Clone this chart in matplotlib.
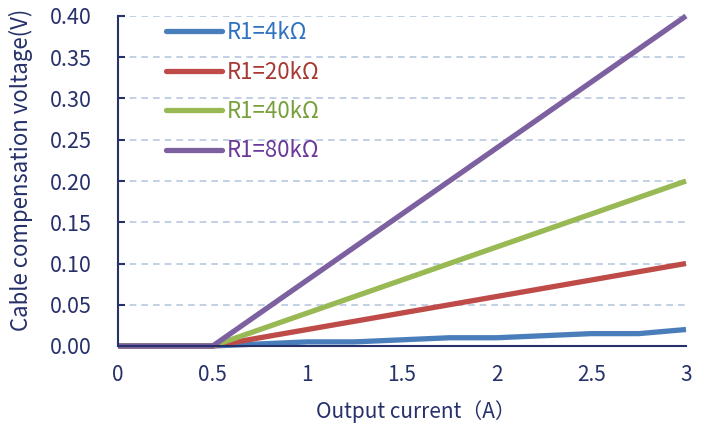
import matplotlib
matplotlib.use("Agg")
import matplotlib.pyplot as plt
from matplotlib.ticker import MultipleLocator, FixedLocator

plt.rcParams['font.family'] = ['Noto Sans CJK SC', 'DejaVu Sans']

current = [0, 0.25, 0.5, 0.75, 1.0, 1.25, 1.5, 1.75, 2.0, 2.25, 2.5, 2.75, 3.0]
v_4k = [0, 0, 0, 0.0025, 0.005, 0.005, 0.0075, 0.01, 0.01, 0.0125, 0.015, 0.015, 0.02]
v_20k = [0, 0, 0, 0.01, 0.02, 0.03, 0.04, 0.05, 0.06, 0.07, 0.08, 0.09, 0.10]
v_40k = [0, 0, 0, 0.02, 0.04, 0.06, 0.08, 0.10, 0.12, 0.14, 0.16, 0.18, 0.20]
v_80k = [0, 0, 0, 0.04, 0.08, 0.12, 0.16, 0.20, 0.24, 0.28, 0.32, 0.36, 0.40]
labels = ["R1=4kΩ", "R1=20kΩ", "R1=40kΩ", "R1=80kΩ"]
colors = ["#4a7ebb", "#be4b48", "#98b954", "#7d60a0"]
text_colors = ["#2f72c0", "#a83a36", "#77a03a", "#6a3a9a"]
xticks = [0, 0.5, 1, 1.5, 2, 2.5, 3]
xtick_labels = ["0", "0.5", "1", "1.5", "2", "2.5", "3"]

navy = "#26306a"
fig = plt.figure(figsize=(7.04, 4.24), dpi=100)
ax = fig.add_axes([118/704, 1-346/424, (686-118)/704, (346-16)/424])

for ys, c, lab in zip([v_4k, v_20k, v_40k, v_80k], colors, labels):
    ax.plot(current, ys, color=c, lw=3.8, label=lab, solid_capstyle='butt', clip_on=False)

ax.set_xlim(0, 3)
ax.set_ylim(0, 0.40)
ax.yaxis.set_major_locator(MultipleLocator(0.05))
ax.yaxis.set_major_formatter(matplotlib.ticker.FormatStrFormatter('%.2f'))
ax.set_xticks(xticks)
ax.set_xticklabels(xtick_labels)
ax.xaxis.set_minor_locator(FixedLocator([1, 2, 3]))
ax.tick_params(axis='x', which='major', length=0, pad=13, labelsize=15, colors=navy)
ax.tick_params(axis='x', which='minor', direction='in', length=5, width=1.5, color=navy)
ax.tick_params(axis='y', which='major', direction='in', length=5, width=1.5, color=navy, labelsize=15.5, labelcolor=navy, pad=19)

ax.grid(axis='y', color='#b7c8e0', linestyle=(0, (4, 3)), lw=1.2)
ax.set_axisbelow(True)
for s in ['top', 'right']:
    ax.spines[s].set_visible(False)
for s in ['left', 'bottom']:
    ax.spines[s].set_color(navy)
    ax.spines[s].set_linewidth(1.5)

ax.set_xlabel("Output current（A）", fontsize=15, color=navy)
ax.xaxis.set_label_coords((416 - 118) / 568, -(400 - 346) / 330)
ax.set_ylabel("Cable compensation voltage(V)", fontsize=16, color=navy)
ax.yaxis.set_label_coords(-(118 - 33) / 568, (346 - 170) / 330)

leg = ax.legend(loc='upper left', bbox_to_anchor=(0.05, 1.045), frameon=False, fontsize=16,
                handlelength=2.5, handletextpad=0.2, labelspacing=0.74)
for t, c in zip(leg.get_texts(), text_colors):
    t.set_color(c)
for h in leg.get_lines():
    h.set_solid_capstyle('round')

fig.savefig("out.png", dpi=100)
